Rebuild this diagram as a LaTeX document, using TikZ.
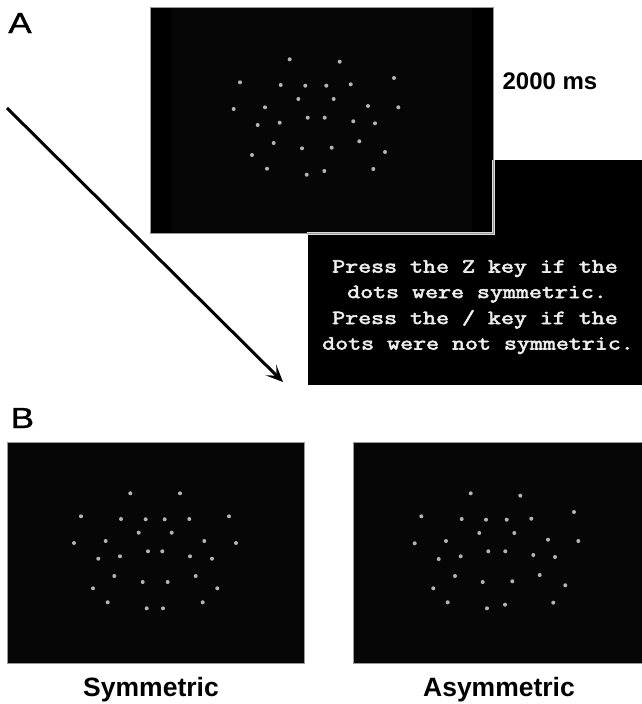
\documentclass[tikz,border=0pt]{standalone}
\usepackage{fontspec}
\setmainfont{Liberation Sans}
\newfontfamily\promptfont[FakeStretch=1.26,FakeBold=3]{Latin Modern Mono}
\newfontfamily\letterfont[FakeBold=1.2]{Liberation Sans}
\usetikzlibrary{arrows.meta}
\definecolor{panelbg}{HTML}{060606}
\definecolor{dotgray}{HTML}{B4B4B4}
\definecolor{framegray}{HTML}{9A9A9A}
\definecolor{framelight}{HTML}{DADADA}
\definecolor{prompttext}{HTML}{EDEDED}
\begin{document}
\begin{tikzpicture}[x=1pt,y=-1pt,
  panel/.style={draw=framegray, line width=1pt, fill=panelbg},
  dotmark/.style={fill=dotgray},
  lbl/.style={font=\fontsize{26.5}{30}\selectfont\bfseries, anchor=base, inner sep=0pt},
  letter/.style={font=\letterfont\fontsize{29}{30}\selectfont, anchor=base, inner sep=0pt, xscale=1.2},
  prompt/.style={font=\promptfont\fontsize{20}{24}\selectfont, text=prompttext, anchor=base, inner sep=0pt},
  arrowline/.style={line width=3pt, -{Stealth[length=17pt,width=15pt,inset=8pt]}},
]
\useasboundingbox (0,0) rectangle (642,704);

% ---------- Panel A ----------
\node[letter] (labA) at (20,33) {A};

% prompt screen
\fill[black] (308,160) rectangle (642,385);
\node[prompt] (p1) at (475,272.5) {Press the Z key if the};
\node[prompt] (p2) at (477,298) {dots were symmetric.};
\node[prompt] (p3) at (475,324) {Press the / key if the};
\node[prompt] (p4) at (478,349.5) {dots were not symmetric.};

% stimulus screen
\fill[black] (150,7) rectangle (493,233);
\fill[panelbg] (171,8) rectangle (472,232);
\draw[framelight, line width=2.4pt] (493.5,160) -- (493.5,233.5) -- (307,233.5);
\draw[framegray, line width=1pt] (150,7) rectangle (493,233);
\foreach \x/\y in {289.7/59.3, 339.7/61.7, 240/82.3, 394/78, 280.7/85, 305.3/85.7,
  326.3/85.7, 350.7/84.3, 298.3/99, 333.7/99, 233.7/109, 265/107.3, 368/106,
  398.3/107.3, 307.7/117.7, 324.7/117.7, 257.7/125, 279.7/122.7, 353.3/121.3,
  375/123.3, 273.7/143, 302/148.3, 331.7/147.7, 359.3/141.3, 252/155, 385/152,
  267/168.7, 306.7/174.7, 324.3/171, 373.3/169}
  \fill[dotmark] (\x,\y) circle (2pt);

\node[lbl, font=\fontsize{24}{28}\selectfont\bfseries] (dur) at (550,89) {2000 ms};

% arrow
\coordinate (arrStart) at (7,108);
\coordinate (arrEnd) at (283,382);
\draw[arrowline] (arrStart) -- (arrEnd);

% ---------- Panel B ----------
\node[letter] (labB) at (22.5,428) {B};

\draw[panel] (7,442) rectangle (304,663);
\foreach \x/\y in {130.3/493.3, 180/493.3, 81/516.3, 229/516.3, 121/519, 145.7/519.3,
  164.7/519.3, 189.3/519, 138.7/532.7, 171.7/532.7, 74/543, 105.7/541, 204.3/541,
  236/543, 148/551.3, 162.3/551.3, 98.3/558.7, 120/556.3, 190/556.3, 212/558.7,
  114.3/576, 142.7/582, 167.7/582, 195.7/576, 93/588.3, 217.3/588.3, 107.7/602.3,
  146.7/608.3, 163/608.3, 202.7/602.3}
  \fill[dotmark] (\x,\y) circle (2pt);

\draw[panel] (353,442) rectangle (642,663);
\foreach \x/\y in {470.7/493.3, 520.3/495.7, 421.3/516.3, 574/512, 461.7/519, 486/519.7,
  506.7/519.7, 531.3/518.7, 479.3/533, 514.3/533, 414.7/543.3, 446/541, 548/539.7,
  578.3/541, 488.3/551.3, 505.3/551.3, 438.7/559, 460.7/556.3, 533.3/555, 555/557,
  455/576, 482.7/582, 512.3/581.3, 539.7/575, 433.3/588.3, 565.3/585.3, 447.7/602.3,
  487/608.3, 505/604.7, 553.3/602.7}
  \fill[dotmark] (\x,\y) circle (2pt);

\node[lbl] (symLab) at (151,696.5) {Symmetric};
\node[lbl] (asymLab) at (499,696.5) {Asymmetric};
\end{tikzpicture}
\end{document}
